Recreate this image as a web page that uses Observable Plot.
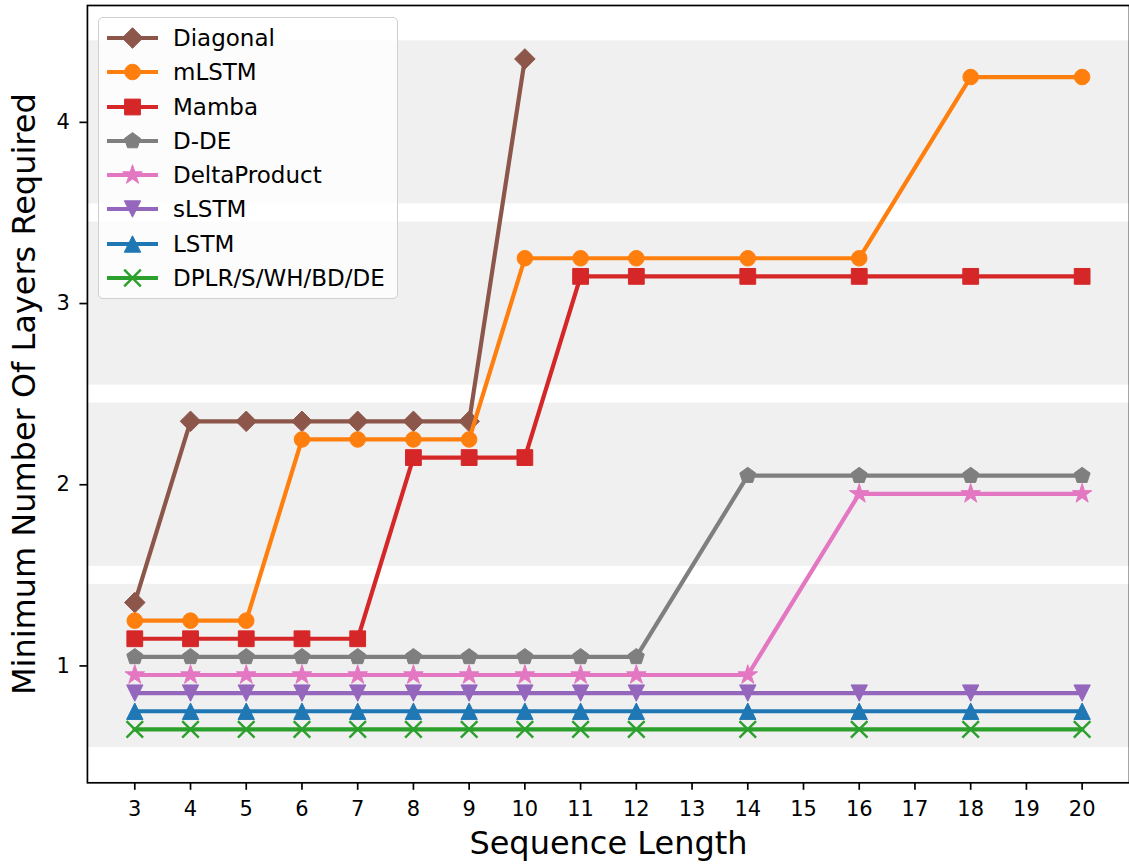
<!DOCTYPE html>
<html>
<head>
<meta charset="utf-8">
<script src="https://cdn.jsdelivr.net/npm/d3@7"></script>
<script src="https://cdn.jsdelivr.net/npm/@observablehq/plot@0.6"></script>
<style>
  html, body { margin: 0; padding: 0; background: #fff; overflow: hidden; }
  body { font-family: "DejaVu Sans", sans-serif; }
  #wrap { position: relative; width: 1129px; height: 865px; overflow: hidden; }
  #chart svg { display: block; }
  #legend { position: absolute; left: 98px; top: 17px; width: 300px; height: 282px; box-sizing: border-box;
            background: rgba(255,255,255,0.8); border: 1.5px solid #cfcfcf; border-radius: 5px; }
  .row { position: absolute; left: 0; height: 34px; width: 100%; }
  .row svg { position: absolute; left: 0; top: 0; }
  .row span { position: absolute; left: 74px; top: 0; line-height: 34px; font-size: 23px; color: #000; white-space: nowrap; }
</style>
</head>
<body>
<div id="wrap"><div id="chart"></div><div id="legend"></div></div>
<script>
// ---- data ----
const xLengths = [3, 4, 5, 6, 7, 8, 9, 10, 11, 12, 14, 16, 18, 20];
const xTicks = [3, 4, 5, 6, 7, 8, 9, 10, 11, 12, 13, 14, 15, 16, 17, 18, 19, 20];
const yTicks = [1, 2, 3, 4];
const seriesNames = ["Diagonal", "mLSTM", "Mamba", "D-DE", "DeltaProduct", "sLSTM", "LSTM", "DPLR/S/WH/BD/DE"];
const seriesColors = ["#8c564b", "#ff7f0e", "#d62728", "#7f7f7f", "#e377c2", "#9467bd", "#1f77b4", "#2ca02c"];
const diagonalValues     = [1.35, 2.35, 2.35, 2.35, 2.35, 2.35, 2.35, 4.35, null, null, null, null, null, null];
const mlstmValues        = [1.25, 1.25, 1.25, 2.25, 2.25, 2.25, 2.25, 3.25, 3.25, 3.25, 3.25, 3.25, 4.25, 4.25];
const mambaValues        = [1.15, 1.15, 1.15, 1.15, 1.15, 2.15, 2.15, 2.15, 3.15, 3.15, 3.15, 3.15, 3.15, 3.15];
const ddeValues          = [1.05, 1.05, 1.05, 1.05, 1.05, 1.05, 1.05, 1.05, 1.05, 1.05, 2.05, 2.05, 2.05, 2.05];
const deltaProductValues = [0.95, 0.95, 0.95, 0.95, 0.95, 0.95, 0.95, 0.95, 0.95, 0.95, 0.95, 1.95, 1.95, 1.95];
const slstmValues        = [0.85, 0.85, 0.85, 0.85, 0.85, 0.85, 0.85, 0.85, 0.85, 0.85, 0.85, 0.85, 0.85, 0.85];
const lstmValues         = [0.75, 0.75, 0.75, 0.75, 0.75, 0.75, 0.75, 0.75, 0.75, 0.75, 0.75, 0.75, 0.75, 0.75];
const dplrValues         = [0.65, 0.65, 0.65, 0.65, 0.65, 0.65, 0.65, 0.65, 0.65, 0.65, 0.65, 0.65, 0.65, 0.65];
const bandLows  = [0.55, 1.55, 2.55, 3.55];
const bandHighs = [1.45, 2.45, 3.45, 4.45];
const xDomain = [2.15, 20.85];
const yDomain = [0.355, 4.645];

// ---- marker symbols (matplotlib-like) ----
const hOf = s => Math.sqrt(s / Math.PI);
const symCircle = { draw(c, s) { const h = hOf(s); c.moveTo(h, 0); c.arc(0, 0, h, 0, 2 * Math.PI); } };
const symSquare = { draw(c, s) { const h = hOf(s); c.rect(-h, -h, 2 * h, 2 * h); } };
const symDiamond = { draw(c, s) { const h = hOf(s); c.moveTo(0, -h); c.lineTo(h, 0); c.lineTo(0, h); c.lineTo(-h, 0); c.closePath(); } };
const symPentagon = { draw(c, s) { const h = hOf(s);
  for (let i = 0; i < 5; i++) { const a = -Math.PI / 2 + i * 2 * Math.PI / 5; i ? c.lineTo(h * Math.cos(a), h * Math.sin(a)) : c.moveTo(h * Math.cos(a), h * Math.sin(a)); }
  c.closePath(); } };
const symStar = { draw(c, s) { const h = hOf(s);
  for (let i = 0; i < 10; i++) { const r = i % 2 ? h * 0.381966 : h; const a = -Math.PI / 2 + i * Math.PI / 5;
    i ? c.lineTo(r * Math.cos(a), r * Math.sin(a)) : c.moveTo(r * Math.cos(a), r * Math.sin(a)); }
  c.closePath(); } };
const symTriDown = { draw(c, s) { const h = hOf(s); c.moveTo(-h, -h); c.lineTo(h, -h); c.lineTo(0, h); c.closePath(); } };
const symTriUp = { draw(c, s) { const h = hOf(s); c.moveTo(0, -h); c.lineTo(h, h); c.lineTo(-h, h); c.closePath(); } };
const symX = { draw(c, s) { const h = hOf(s); c.moveTo(-h, -h); c.lineTo(h, h); c.moveTo(h, -h); c.lineTo(-h, h); } };

const seriesValues = [diagonalValues, mlstmValues, mambaValues, ddeValues, deltaProductValues, slstmValues, lstmValues, dplrValues];
const seriesSymbols = [symDiamond, symCircle, symSquare, symPentagon, symStar, symTriDown, symTriUp, symX];
const seriesR = [10.3, 7.8, 7.9, 8.4, 10.3, 8.2, 8.2, 8.3];
const seriesFilled = [true, true, true, true, true, true, true, false];

const series = seriesNames.map((name, i) => ({
  name, color: seriesColors[i], symbol: seriesSymbols[i], r: seriesR[i], filled: seriesFilled[i],
  data: xLengths.map((x, j) => ({ x, y: seriesValues[i][j] })).filter(d => d.y != null)
}));
const bands = bandLows.map((lo, i) => ({ lo, hi: bandHighs[i] }));

const marks = [
  Plot.rect(bands, { x1: () => xDomain[0], x2: () => xDomain[1], y1: "lo", y2: "hi", fill: "#f0f0f0" })
];
for (const s of series) {
  marks.push(Plot.line(s.data, { x: "x", y: "y", stroke: s.color, strokeWidth: 4.2, strokeLinejoin: "round", strokeLinecap: "square" }));
  marks.push(Plot.dot(s.data, {
    x: "x", y: "y", symbol: s.symbol, r: s.r,
    fill: s.filled ? s.color : "none",
    stroke: s.color, strokeWidth: s.filled ? 1 : 2.4
  }));
}
marks.push(Plot.frame({ stroke: "black", strokeWidth: 1.7 }));
// tick lines (labels drawn separately as text marks)
marks.push(Plot.axisX({ ticks: xTicks, tickFormat: () => "", tickSize: 7.5, label: null, strokeWidth: 1.7 }));
marks.push(Plot.axisY({ ticks: yTicks, tickFormat: () => "", tickSize: 7.5, label: null, strokeWidth: 1.7 }));
marks.push(Plot.text(xTicks, { x: d => d, frameAnchor: "bottom", dy: 18.5, lineAnchor: "top", textAnchor: "middle", text: d => String(d), fontSize: 21, fill: "black" }));
marks.push(Plot.text(yTicks, { y: d => d, frameAnchor: "left", dx: -17.5, lineAnchor: "middle", textAnchor: "end", text: d => String(d), fontSize: 21, fill: "black" }));
marks.push(Plot.text(["Sequence Length"], { frameAnchor: "bottom", dy: 61, lineAnchor: "middle", textAnchor: "middle", text: d => d, fontSize: 32, fill: "black" }));
marks.push(Plot.text(["Minimum Number Of Layers Required"], { frameAnchor: "left", dx: -63, rotate: -90, lineAnchor: "middle", textAnchor: "middle", text: d => d, fontSize: 32, fill: "black" }));

const chart = Plot.plot({
  width: 1130, height: 865,
  marginLeft: 87, marginRight: 0, marginTop: 5, marginBottom: 82,
  x: { type: "linear", domain: xDomain, axis: null },
  y: { type: "linear", domain: yDomain, axis: null },
  style: { fontFamily: "'DejaVu Sans', sans-serif", fontSize: "21px", color: "black", background: "white", overflow: "visible" },
  marks
});
document.getElementById("chart").appendChild(chart);

// ---- legend ----
const legend = document.getElementById("legend");
series.forEach((s, i) => {
  const row = document.createElement("div");
  row.className = "row";
  row.style.top = (3 + i * 34.25) + "px";
  const p = d3.path();
  s.symbol.draw(p, s.r * s.r * Math.PI);
  row.innerHTML =
    `<svg width="70" height="34"><line x1="8" x2="59" y1="17" y2="17" stroke="${s.color}" stroke-width="4.2"/>` +
    `<path transform="translate(33.5,17)" d="${p.toString()}" fill="${s.filled ? s.color : "none"}" stroke="${s.color}" stroke-width="${s.filled ? 1 : 2.4}"/></svg>` +
    `<span>${s.name}</span>`;
  legend.appendChild(row);
});
</script>
</body>
</html>
